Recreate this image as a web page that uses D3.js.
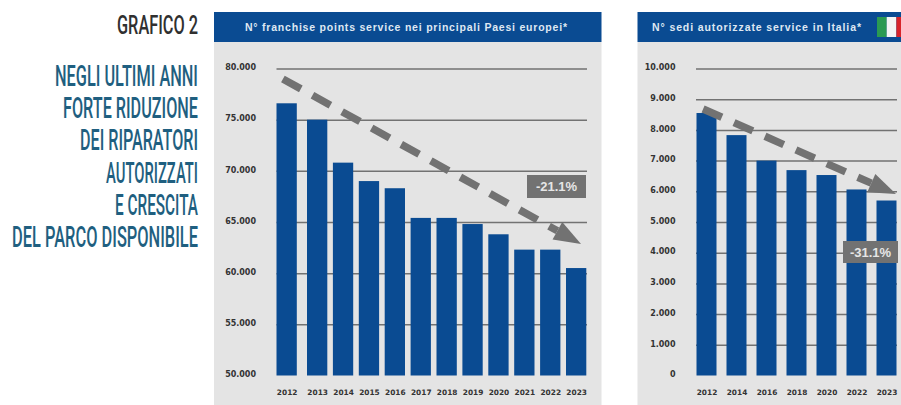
<!DOCTYPE html>
<html lang="it">
<head>
<meta charset="utf-8">
<title>Grafico 2</title>
<script src="https://cdn.jsdelivr.net/npm/d3@7/dist/d3.min.js"></script>
<style>
  html, body { margin: 0; padding: 0; background: #fff; }
  svg { display: block; }
  .axis text { font-family: "DejaVu Sans", sans-serif; font-weight: 700; fill: #333; }
  .axis .domain { display: none; }
</style>
</head>
<body>
<svg id="chart" width="901" height="405"></svg>
<script>
// Europe: franchise service points per year
const europeYears = [2012, 2013, 2014, 2015, 2016, 2017, 2018, 2019, 2020, 2021, 2022, 2023];
const europeValues = [76600, 75000, 70800, 69000, 68300, 65400, 65400, 64800, 63800, 62300, 62300, 60500];
const europeTicks = [50000, 55000, 60000, 65000, 70000, 75000, 80000];
const europeTrendSlots = [0.21, 11.58];
const europeTrendValues = [78980, 62860];

// Italy: authorised service sites per year
const italyYears = [2012, 2014, 2016, 2018, 2020, 2022, 2023];
const italyValues = [8550, 7830, 7000, 6690, 6530, 6060, 5700];
const italyTicks = [0, 1000, 2000, 3000, 4000, 5000, 6000, 7000, 8000, 9000, 10000];
const italyTrendSlots = [0.22, 6.65];
const italyTrendValues = [8680, 5910];

// Left-hand headline
const headline = ["NEGLI ULTIMI ANNI", "FORTE RIDUZIONE", "DEI RIPARATORI", "AUTORIZZATI", "E CRESCITA", "DEL PARCO DISPONIBILE"];
const headlineWidths = [143, 135, 118, 92, 83, 186];

const BLUE = "#0a4b92";
const PANEL = "#e4e4e4";
const GREY = "#727272";
const itFormat = d3.formatLocale({ decimal: ",", thousands: ".", grouping: [3], currency: ["€", ""] }).format(",");

const svg = d3.select("#chart");

// Right-aligned display type, narrowed horizontally to the requested width
function condensed(text, xRight, baseline, size, width, fill) {
  const t = svg.append("text")
    .attr("text-anchor", "end")
    .attr("font-family", "Roboto, 'Liberation Sans', sans-serif")
    .attr("font-weight", 500)
    .attr("font-size", size)
    .attr("fill", fill)
    .text(text);
  const natural = t.node().getComputedTextLength();
  t.attr("transform", `translate(${xRight},${baseline}) scale(${width / natural},1)`);
}

condensed("GRAFICO 2", 198, 34, 26.5, 81, "#303030");
const headlineBaselines = d3.range(headline.length).map(i => 86 + i * 32.2);
headline.forEach((line, i) => condensed(line, 198, headlineBaselines[i], 29.5, headlineWidths[i], "#1f5f80"));

function drawPanel(cfg) {
  const g = svg.append("g");

  g.append("rect").attr("x", cfg.left).attr("y", 42)
    .attr("width", cfg.right - cfg.left).attr("height", 363).attr("fill", PANEL);
  g.append("rect").attr("x", cfg.left).attr("y", 12)
    .attr("width", cfg.right - cfg.left).attr("height", 30).attr("fill", BLUE);

  const title = g.append("text")
    .attr("x", cfg.titleX).attr("y", 31)
    .attr("font-family", "'Liberation Sans', Arial, sans-serif")
    .attr("font-weight", 700).attr("font-size", 10.5)
    .attr("fill", "#dfe8f2")
    .text(cfg.title);
  // Open the tracking until the heading fills its width
  const gaps = cfg.title.length - 1;
  title.attr("letter-spacing", (cfg.titleWidth - title.node().getComputedTextLength()) / gaps);

  const y = d3.scaleLinear().domain(cfg.yDomain).range([375.5, 68.5]);
  const x = d3.scaleLinear().domain(cfg.slotDomain).range(cfg.slotRange);

  // Horizontal rules with their value labels
  const yAxis = g.append("g").attr("class", "axis")
    .attr("transform", `translate(${cfg.gridLeft},0)`)
    .call(d3.axisLeft(y).tickValues(cfg.ticks).tickFormat(itFormat)
      .tickSize(-(cfg.gridRight - cfg.gridLeft)).tickPadding(20.5));
  yAxis.selectAll(".tick line").attr("stroke", GREY).attr("stroke-width", 1.5)
    .filter(d => d === cfg.yDomain[0]).remove();
  yAxis.selectAll(".tick text").attr("font-size", 8).attr("dy", "0.15em");

  // Bars
  g.append("g").selectAll("rect").data(cfg.values).join("rect")
    .attr("x", (d, i) => x(i))
    .attr("y", d => y(d))
    .attr("width", cfg.barWidth)
    .attr("height", d => y(cfg.yDomain[0]) - y(d))
    .attr("fill", BLUE);

  // Year labels
  const xAxis = g.append("g").attr("class", "axis")
    .attr("transform", `translate(${cfg.barWidth / 2},375.5)`)
    .call(d3.axisBottom(x).tickValues(d3.range(cfg.years.length))
      .tickFormat(i => cfg.years[i]).tickSize(0).tickPadding(14));
  xAxis.selectAll(".tick text").attr("font-size", 7.4);

  // Dashed trend arrow
  const x0 = x(cfg.trendSlots[0]), y0 = y(cfg.trendValues[0]);
  const x1 = x(cfg.trendSlots[1]), y1 = y(cfg.trendValues[1]);
  const len = Math.hypot(x1 - x0, y1 - y0);
  const ux = (x1 - x0) / len, uy = (y1 - y0) / len;
  const headLen = 27, headHalf = 10;
  g.append("line")
    .attr("x1", x0).attr("y1", y0)
    .attr("x2", x1 - ux * headLen).attr("y2", y1 - uy * headLen)
    .attr("stroke", GREY).attr("stroke-width", 7.5)
    .attr("stroke-dasharray", "20.5 13.3");
  const bx = x1 - ux * headLen, by = y1 - uy * headLen;
  g.append("polygon").attr("fill", GREY)
    .attr("points", [
      [x1, y1],
      [bx + uy * headHalf, by - ux * headHalf],
      [bx - uy * headHalf, by + ux * headHalf]
    ].join(" "));

  // Percentage badge
  g.append("rect").attr("x", cfg.badge[0]).attr("y", cfg.badge[1])
    .attr("width", cfg.badge[2]).attr("height", cfg.badge[3]).attr("fill", GREY);
  g.append("text")
    .attr("x", cfg.badge[0] + cfg.badge[2] / 2).attr("y", cfg.badge[1] + cfg.badge[3] / 2 + 4.5)
    .attr("text-anchor", "middle")
    .attr("font-family", "'Liberation Sans', Arial, sans-serif")
    .attr("font-weight", 700).attr("font-size", 13)
    .attr("fill", "#e6e6e6")
    .text(cfg.badgeText);
}

drawPanel({
  left: 214, right: 601.5,
  title: "N° franchise points service nei principali Paesi europei*",
  titleX: 245, titleWidth: 322,
  years: europeYears, values: europeValues, ticks: europeTicks,
  yDomain: [50000, 80000],
  slotDomain: [0, 1, 11], slotRange: [276.5, 307, 566], barWidth: 20.3,
  gridLeft: 276.5, gridRight: 587,
  trendSlots: europeTrendSlots, trendValues: europeTrendValues,
  badge: [527, 175, 59, 23], badgeText: "-21.1%"
});

drawPanel({
  left: 637.5, right: 901,
  title: "N° sedi autorizzate service in Italia*",
  titleX: 652, titleWidth: 209,
  years: italyYears, values: italyValues, ticks: italyTicks,
  yDomain: [0, 10000],
  slotDomain: [0, 6], slotRange: [696.5, 876.5], barWidth: 20,
  gridLeft: 696, gridRight: 897,
  trendSlots: italyTrendSlots, trendValues: italyTrendValues,
  badge: [843, 241, 55, 22], badgeText: "-31.1%"
});

// Italian flag in the header
const flagColours = ["#2a9a52", "#f4f4f4", "#d8232a"];
svg.append("g").selectAll("rect").data(flagColours).join("rect")
  .attr("x", (d, i) => 877 + i * 9.7).attr("y", 17)
  .attr("width", 9.7).attr("height", 20)
  .attr("fill", d => d);
</script>
</body>
</html>
